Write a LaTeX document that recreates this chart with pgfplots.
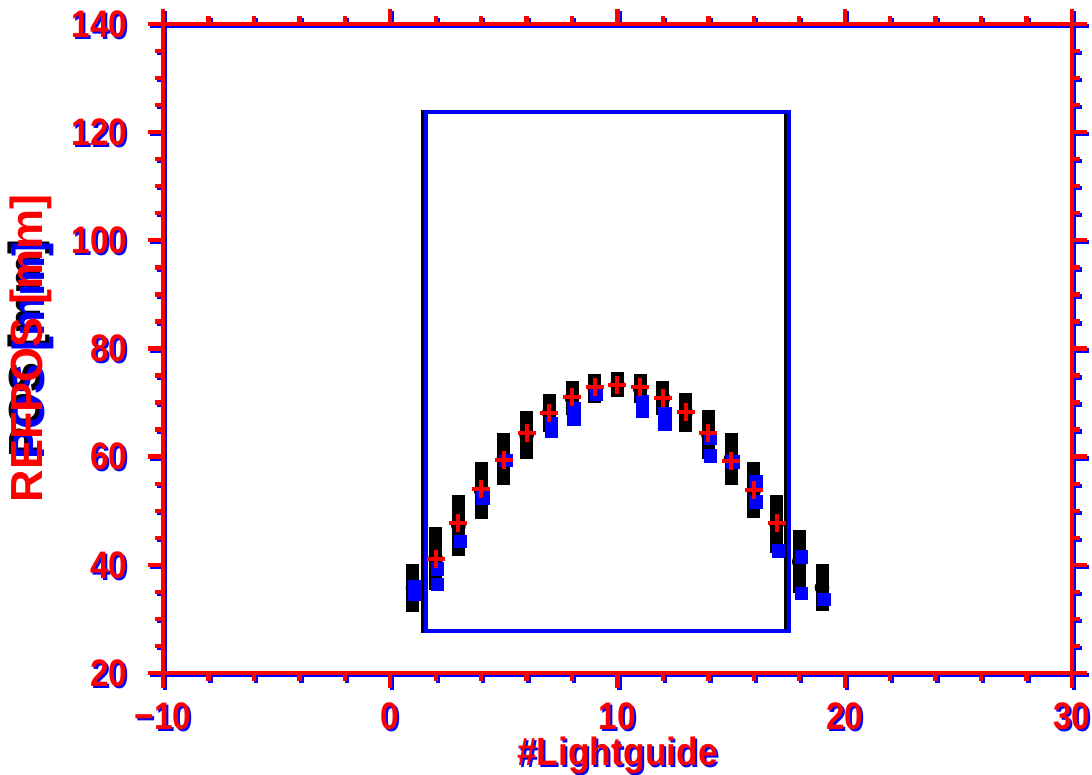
\documentclass[border=0pt]{standalone}
\usepackage{fontspec}
\setmainfont{Liberation Sans}
\newfontfamily\tickfont[FakeStretch=0.87]{Liberation Sans}
\newfontfamily\xlabfont[FakeStretch=0.9]{Liberation Sans}
\usepackage{pgfplots}
\pgfplotsset{compat=1.18}
\definecolor{idlred}{RGB}{255,0,0}
\definecolor{idlblue}{RGB}{0,0,255}

% one frame style, drawn twice (blue shadow, red on top)
\pgfplotsset{
  idlframe/.style={
    scale only axis, width=272.7pt, height=194.7pt,
    xmin=-10, xmax=30, ymin=20, ymax=140,
    at={(#1)}, anchor=south west,
    xtick={-10,0,10,20,30}, xticklabels={−10,0,10,20,30},
    ytick={20,40,...,140}, yticklabels={20,40,60,80,100,120,140},
    minor x tick num=4, minor y tick num=3,
    tick align=outside,
    major tick length=4.5pt, minor tick length=2.4pt,
    tick label style={font=\tickfont\bfseries\fontsize{11.5}{12}\selectfont},
    xticklabel style={inner sep=0pt, anchor=north, yshift=-4.1pt},
    yticklabel style={inner sep=0pt, anchor=east, xshift=-6pt},
    every axis x label/.style={at={(axis description cs:0.5,-0.1275)}, anchor=center,
      font=\xlabfont\bfseries\fontsize{11.8}{14}\selectfont},
    every axis y label/.style={at={(axis description cs:-0.145,0.5)}, anchor=center, rotate=90,
      font=\bfseries\fontsize{13.5}{15}\selectfont},
    clip=false,
  },
  idlcol/.style={
    axis line style={line width=1.3pt, #1},
    tick style={line width=1.3pt, #1},
    tick label style={#1},
    x label style={#1}, y label style={#1},
    xlabel={\#Lightguide},
  },
}

\begin{document}
\begin{tikzpicture}
  % black range bars, frame and label shadow
  \begin{axis}[idlframe={0pt,0pt}, axis line style={draw=none}, xtick=\empty, ytick=\empty,
      ylabel={POS [mm]}, y label style={black, at={(axis description cs:-0.1475,0.5)}}]
    \addplot[black, line width=1.2pt] coordinates {(1.45,27.7) (17.4,27.7) (17.4,123.7) (1.45,123.7)} -- cycle;
    \addplot[only marks, mark=none, error bars/.cd, y dir=both, y explicit, error mark=none,
      error bar style={line width=3.9pt, black}]
      coordinates {
        (1,35.7) +- (0,4.4)   (2,41.15) +- (0,5.85) (3,47.25) +- (0,5.65)
        (4,53.75) +- (0,5.25) (5,59.6) +- (0,4.8)   (6,64.0) +- (0,4.4)
        (7,68.1) +- (0,3.5)   (8,70.85) +- (0,3.15) (9,72.6) +- (0,2.7)
        (10,73.3) +- (0,2.3)  (11,72.6) +- (0,2.7)  (12,70.85) +- (0,3.15)
        (13,68.2) +- (0,3.6)  (14,64.1) +- (0,4.5)  (15,59.6) +- (0,4.8)
        (16,53.85) +- (0,5.15) (17,47.55) +- (0,5.35) (18,40.6) +- (0,5.8)
        (19,35.8) +- (0,4.3)
      };
  \end{axis}
  % blue frame, shifted
  \begin{axis}[idlframe={0.6pt,-0.6pt}, idlcol=idlblue, ylabel={POS [mm]}]
    \addplot[idlblue, line width=1.2pt] coordinates {(1.5,28.1) (17.47,28.1) (17.47,124.1) (1.5,124.1)} -- cycle;
    \addplot[only marks, mark=square*, mark size=1.8pt, idlblue]
      coordinates {
        (1,36.4) (1,35.0) (2,39.6) (2,36.7) (3,44.7) (4,52.7) (5,59.6)
        (7,66.4) (7,65.0) (8,69.2) (8,67.2) (9,71.9) (11,70.5) (11,68.7)
        (12,68.3) (12,66.4) (14,63.8) (14,60.5) (15,59.4) (16,55.7) (16,52.0)
        (17,42.9) (18,41.8) (18,35.1) (19,34.0)
      };
  \end{axis}
  % red frame on top
  \begin{axis}[idlframe={0pt,0pt}, idlcol=idlred, ylabel={REFPOS [mm]}]
    \addplot[only marks, mark=+, mark size=2.7pt, idlred, mark options={line width=1.2pt}]
      coordinates {
        (2,41.1) (3,47.7) (4,54.0) (5,59.4) (6,64.4) (7,68.1) (8,71.0) (9,72.9)
        (10,73.3) (11,72.9) (12,70.8) (13,68.3) (14,64.4) (15,59.2) (16,53.8) (17,47.7)
      };
  \end{axis}
  \pgfresetboundingbox
  \useasboundingbox (-48.9pt,-30.6pt) rectangle (278.7pt,201.9pt);
\end{tikzpicture}
\end{document}
